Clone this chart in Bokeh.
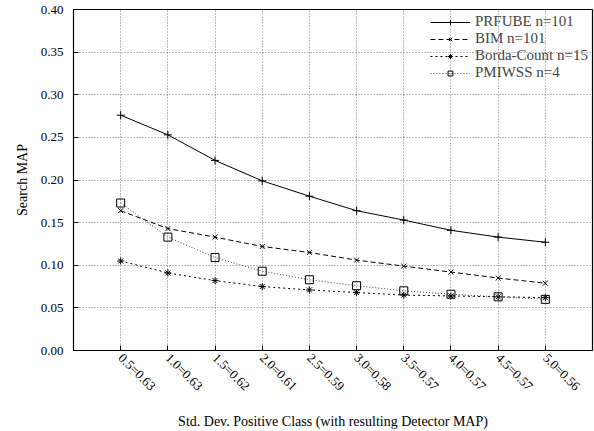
import math
from bokeh.plotting import figure
from bokeh.models import FactorRange, Range1d, FixedTicker, Legend, LegendItem, NumeralTickFormatter
from bokeh.embed import file_html
from bokeh.resources import INLINE

categories = ["0.5=0.63", "1.0=0.63", "1.5=0.62", "2.0=0.61", "2.5=0.59",
              "3.0=0.58", "3.5=0.57", "4.0=0.57", "4.5=0.57", "5.0=0.56"]
prfube = [0.276, 0.253, 0.223, 0.199, 0.181, 0.164, 0.153, 0.141, 0.133, 0.127]
bim = [0.164, 0.143, 0.133, 0.122, 0.115, 0.106, 0.099, 0.092, 0.085, 0.079]
borda = [0.105, 0.091, 0.082, 0.075, 0.071, 0.068, 0.065, 0.064, 0.063, 0.062]
pmiwss = [0.173, 0.133, 0.109, 0.093, 0.083, 0.076, 0.070, 0.066, 0.063, 0.060]
y_ticks = [0.0, 0.05, 0.10, 0.15, 0.20, 0.25, 0.30, 0.35, 0.40]

FONT = "Liberation Serif"

p = figure(width=594, height=431, output_backend="svg", toolbar_location=None,
           x_range=FactorRange(factors=categories, range_padding=0.1),
           y_range=Range1d(0, 0.40),
           min_border_left=73, min_border_right=2, min_border_top=9, min_border_bottom=79,
           x_axis_label="Std. Dev. Positive Class (with resulting Detector MAP)",
           y_axis_label="Search MAP")

p.outline_line_color = "black"
p.outline_line_width = 1.2
p.outline_line_alpha = 1
p.background_fill_color = "white"
p.border_fill_color = "white"

for ax in (p.xaxis[0], p.yaxis[0]):
    ax.axis_line_color = "black"
    ax.major_tick_in = 5
    ax.major_tick_out = 0
    ax.minor_tick_line_color = None
    ax.major_label_text_font = FONT
    ax.major_label_text_font_size = "13px"
    ax.major_label_text_color = "black"
    ax.axis_label_text_font = FONT
    ax.axis_label_text_font_size = "14px"
    ax.axis_label_text_font_style = "normal"
    ax.axis_label_text_color = "black"

p.xaxis.major_label_orientation = -math.pi / 4
p.xaxis.major_label_standoff = 5
p.xaxis.axis_label_standoff = 12
p.yaxis.ticker = FixedTicker(ticks=y_ticks)
p.yaxis.formatter = NumeralTickFormatter(format="0.00")
p.yaxis.major_label_standoff = 10
p.yaxis.axis_label_standoff = 8

p.xgrid.grid_line_color = "#777777"
p.xgrid.grid_line_dash = "1 2"
p.ygrid.grid_line_color = "#777777"
p.ygrid.grid_line_dash = "1 2"
p.ygrid.ticker = FixedTicker(ticks=y_ticks)

r1 = p.line(categories, prfube, line_color="black", line_width=1)
m1 = p.scatter(categories, prfube, marker="cross", size=8, line_color="black")
r2 = p.line(categories, bim, line_color="black", line_width=1, line_dash="5 3")
m2 = p.scatter(categories, bim, marker="x", size=7, line_color="black")
r3 = p.line(categories, borda, line_color="black", line_width=1, line_dash="2 3")
m3 = p.scatter(categories, borda, marker="asterisk", size=7, line_color="black")
r4 = p.line(categories, pmiwss, line_color="#444444", line_width=1, line_dash="1 2")
m4 = p.scatter(categories, pmiwss, marker="square", size=8, line_color="black", fill_color=None)

legend = Legend(items=[
    LegendItem(label="PRFUBE n=101", renderers=[r1, m1]),
    LegendItem(label="BIM n=101", renderers=[r2, m2]),
    LegendItem(label="Borda-Count n=15", renderers=[r3, m3]),
    LegendItem(label="PMIWSS n=4", renderers=[r4, m4]),
], location="top_right")
legend.border_line_color = None
legend.background_fill_alpha = 0
legend.label_text_font = FONT
legend.label_text_font_size = "15px"
legend.label_height = 12
legend.glyph_height = 12
legend.glyph_width = 40
legend.spacing = -3
legend.padding = 2
legend.margin = 4
p.add_layout(legend)

open("out.html", "w").write(file_html(p, INLINE))
